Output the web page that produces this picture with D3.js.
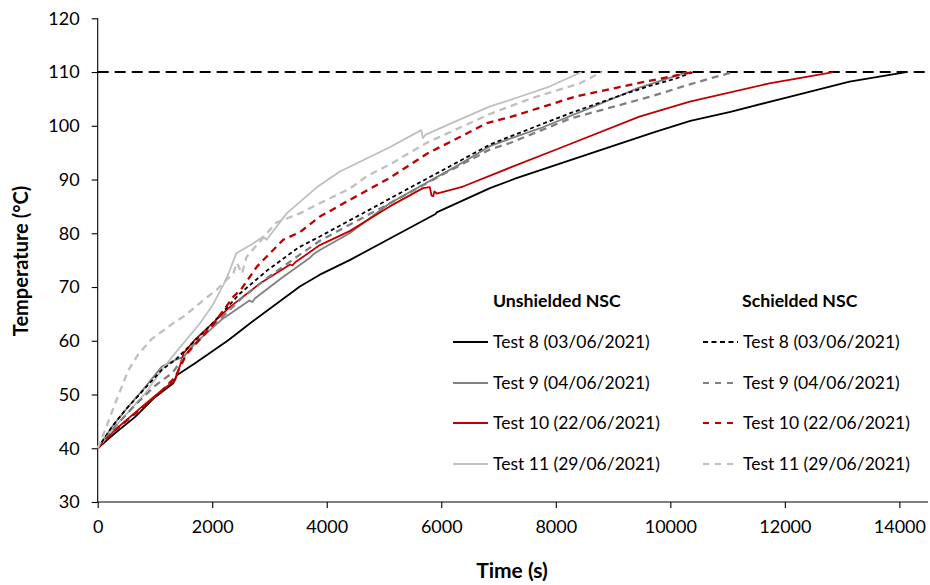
<!DOCTYPE html>
<html>
<head>
<meta charset="utf-8">
<script src="https://cdn.jsdelivr.net/npm/d3@7"></script>
<style>
  html, body { margin: 0; padding: 0; background: #fff; }
  svg { display: block; font-family: Lato, "Open Sans", sans-serif; }
</style>
</head>
<body>
<svg id="chart" width="930" height="585"></svg>
<script>
// ---- Data: [time (s), temperature (°C)] ----
const test8Unshielded = [[0,40],[300,42.8],[650,45.8],[1000,49.5],[1320,52.1],[1380,53.6],[1700,55.8],[2280,60.1],[2680,63.4],[3530,70.1],[3880,72.3],[4400,75.0],[5200,79.6],[5900,83.6],[5920,83.9],[6850,88.4],[7300,90.2],[8700,95.2],[9750,98.9],[10350,100.9],[11050,102.6],[12080,105.4],[13130,108.2],[14120,110]];
const test9Unshielded = [[0,40],[250,44],[530,47.7],[800,51],[1120,55.2],[1350,56.4],[1500,57],[1700,59.5],[2160,63.9],[2650,67.5],[2700,67.2],[2750,67.9],[3200,71.6],[3700,75.4],[3780,76.2],[3880,76.9],[4400,80],[5100,85.6],[6250,92.4],[6850,96.2],[7200,97.6],[7720,99.5],[8590,103.3],[9460,107.1],[10300,110]];
const test10Unshielded = [[0,40],[300,43.4],[770,47.7],[1120,50.8],[1350,52.6],[1440,55.5],[1500,57.7],[1700,60.2],[2000,63.2],[2310,66.3],[2840,70.7],[3360,74.2],[3400,74.0],[3450,74.6],[3880,77.8],[4400,80.4],[5100,85],[5680,88.4],[5800,88.6],[5830,87],[5860,86.9],[5880,87.8],[5920,87.4],[6380,88.7],[7200,92.2],[8130,96.1],[9460,101.7],[10340,104.5],[11730,107.9],[12850,110]];
const test11Unshielded = [[0,40],[300,44],[600,47.5],[830,50.2],[1120,54.6],[1400,58.3],[1790,63.3],[2000,66.5],[2200,70.5],[2310,73.2],[2420,76.3],[2700,78],[2890,79.4],[2950,78.8],[3000,79.5],[3300,83.7],[3820,88.5],[4230,91.5],[5100,96],[5650,99.2],[5680,97.7],[5720,98.3],[6200,100.6],[6850,103.6],[7200,104.8],[7890,107.3],[8450,110]];

const test8Shielded = [[0,40],[250,44],[480,47.1],[770,50.5],[1120,54.6],[1350,56.4],[1700,60],[2000,63.2],[2485,68.8],[2950,73],[3500,77.3],[3880,79.4],[4400,82.4],[4750,84.4],[5300,87.6],[6000,91.6],[6850,96.5],[7200,98],[8240,102.3],[9060,105.4],[9600,107.3],[10100,108.8],[10400,110]];
const test9Shielded = [[0,40],[300,44],[650,48],[1000,51.6],[1300,54],[1600,58.2],[2000,62.6],[2500,67.8],[3000,72],[3500,75.8],[3880,78.6],[4400,81.6],[5000,85],[6000,90.8],[6850,95.6],[7200,96.8],[8240,101.3],[9640,105.4],[10340,107.7],[10690,108.8],[11100,110]];
const test10Shielded = [[0,40],[300,43.3],[770,47.5],[1100,50.5],[1350,53.2],[1550,57.5],[1800,60.5],[2000,62.8],[2370,68.2],[2500,69.5],[2780,73.8],[3240,78.8],[3530,80.2],[3880,83.1],[4400,86.2],[5100,90.3],[5750,94.8],[6800,100.5],[7200,101.6],[8360,105.5],[9460,108],[10400,110]];
const test11Shielded = [[0,40],[130,43.4],[300,48.2],[530,54.4],[710,57.5],[940,60.3],[1350,63.5],[1500,64.5],[1840,67.5],[2080,69.5],[2370,72.6],[2430,74.5],[2520,72.5],[2600,75.6],[3120,82],[3530,83.7],[3880,85.6],[4400,88.3],[4700,90.6],[5100,92.8],[5740,96.8],[6850,102.2],[7600,105.2],[8420,107.9],[8800,110]];

const limitTemperature = 110;
const xTicks = [0,2000,4000,6000,8000,10000,12000,14000];
const yTicks = [30,40,50,60,70,80,90,100,110,120];
const xDomain = [0, 14500];
const yDomain = [30, 120];

const legendHeaders = ["Unshielded NSC", "Schielded NSC"];
const unshieldedLabels = ["Test 8 (03/06/2021)","Test 9 (04/06/2021)","Test 10 (22/06/2021)","Test 11 (29/06/2021)"];
const shieldedLabels = ["Test 8 (03/06/2021)","Test 9 (04/06/2021)","Test 10 (22/06/2021)","Test 11 (29/06/2021)"];
const xTitle = "Time (s)";
const yTitle = "Temperature (°C)";

// ---- Styles ----
const colors = ["#000000", "#808080", "#c00000", "#bfbfbf"];
const dashShielded = ["4,3", "7,5", "7,5", "7,5"];

const svg = d3.select("#chart");
const x = d3.scaleLinear().domain(xDomain).range([97.7, 928]);
const y = d3.scaleLinear().domain(yDomain).range([502, 18.3]);

// axes
const yAxis = d3.axisLeft(y).tickValues(yTicks).tickSize(6).tickPadding(12).tickFormat(d3.format("d"));
const xAxis = d3.axisBottom(x).tickValues(xTicks).tickSize(6).tickPadding(12).tickFormat(d3.format("d"));

const gy = svg.append("g").attr("transform", `translate(${x(0)},0)`).call(yAxis);
const gx = svg.append("g").attr("transform", `translate(0,${y(30)})`).call(xAxis);
[gx, gy].forEach(g => {
  g.selectAll("path.domain").attr("stroke", "#000").attr("stroke-width", 1.1);
  g.selectAll(".tick line").attr("stroke", "#000").attr("stroke-width", 1.1);
  g.selectAll(".tick text").attr("fill", "#000").style("font-size", "18px").style("font-family", "Lato, sans-serif");
});
gy.select("path.domain").attr("d", `M0,${y(30)}V${y(120)}`);
gx.select("path.domain").attr("d", `M${x(0)},0H${x(xDomain[1])}`);

// limit line
svg.append("line")
  .attr("x1", x(0)).attr("x2", x(xDomain[1]))
  .attr("y1", y(limitTemperature)).attr("y2", y(limitTemperature))
  .attr("stroke", "#000").attr("stroke-width", 2).attr("stroke-dasharray", "11,6");

// series
const line = d3.line().x(d => x(d[0])).y(d => y(d[1]));
const unshielded = [test8Unshielded, test9Unshielded, test10Unshielded, test11Unshielded];
const shielded = [test8Shielded, test9Shielded, test10Shielded, test11Shielded];

const gLines = svg.append("g").attr("fill", "none").attr("stroke-linejoin", "round");
unshielded.forEach((s, i) => {
  gLines.append("path").attr("d", line(s)).attr("stroke", colors[i]).attr("stroke-width", 1.8);
});
shielded.forEach((s, i) => {
  gLines.append("path").attr("d", line(s)).attr("stroke", colors[i])
    .attr("stroke-width", i === 0 ? 1.8 : 2.3).attr("stroke-dasharray", dashShielded[i]);
});

// legend
const leg = svg.append("g").style("font-family", "Lato, sans-serif");
const rowsY = [342, 383, 423, 464];
const cols = [{lx: 453, tx: 493, labels: unshieldedLabels, dashed: false},
              {lx: 703, tx: 743, labels: shieldedLabels, dashed: true}];
legendHeaders.forEach((h, c) => {
  leg.append("text").attr("x", cols[c].tx - (c === 1 ? 1 : 0)).attr("y", 301).attr("dy", "0.35em")
    .style("font-size", "17.7px").style("font-weight", "bold").attr("fill", "#000").text(h);
});
cols.forEach(col => {
  col.labels.forEach((lab, i) => {
    leg.append("line").attr("x1", col.lx).attr("x2", col.lx + 35)
      .attr("y1", rowsY[i]).attr("y2", rowsY[i])
      .attr("stroke", colors[i]).attr("stroke-width", col.dashed && i > 0 ? 2.2 : 1.8)
      .attr("stroke-dasharray", col.dashed ? (i === 0 ? "5,3.5" : "6,6") : null);
    leg.append("text").attr("x", col.tx).attr("y", rowsY[i]).attr("dy", "0.35em")
      .style("font-size", "17.5px").attr("fill", "#000").text(lab);
  });
});

// axis titles
svg.append("text").attr("x", 512).attr("y", 571).attr("dy", "0.35em").attr("text-anchor", "middle")
  .style("font-size", "21px").style("font-weight", "bold").text(xTitle);
svg.append("text").attr("transform", `translate(21,261) rotate(-90)`).attr("dy", "0.35em")
  .attr("text-anchor", "middle").style("font-size", "20px").style("font-weight", "bold").text(yTitle);
</script>
</body>
</html>
